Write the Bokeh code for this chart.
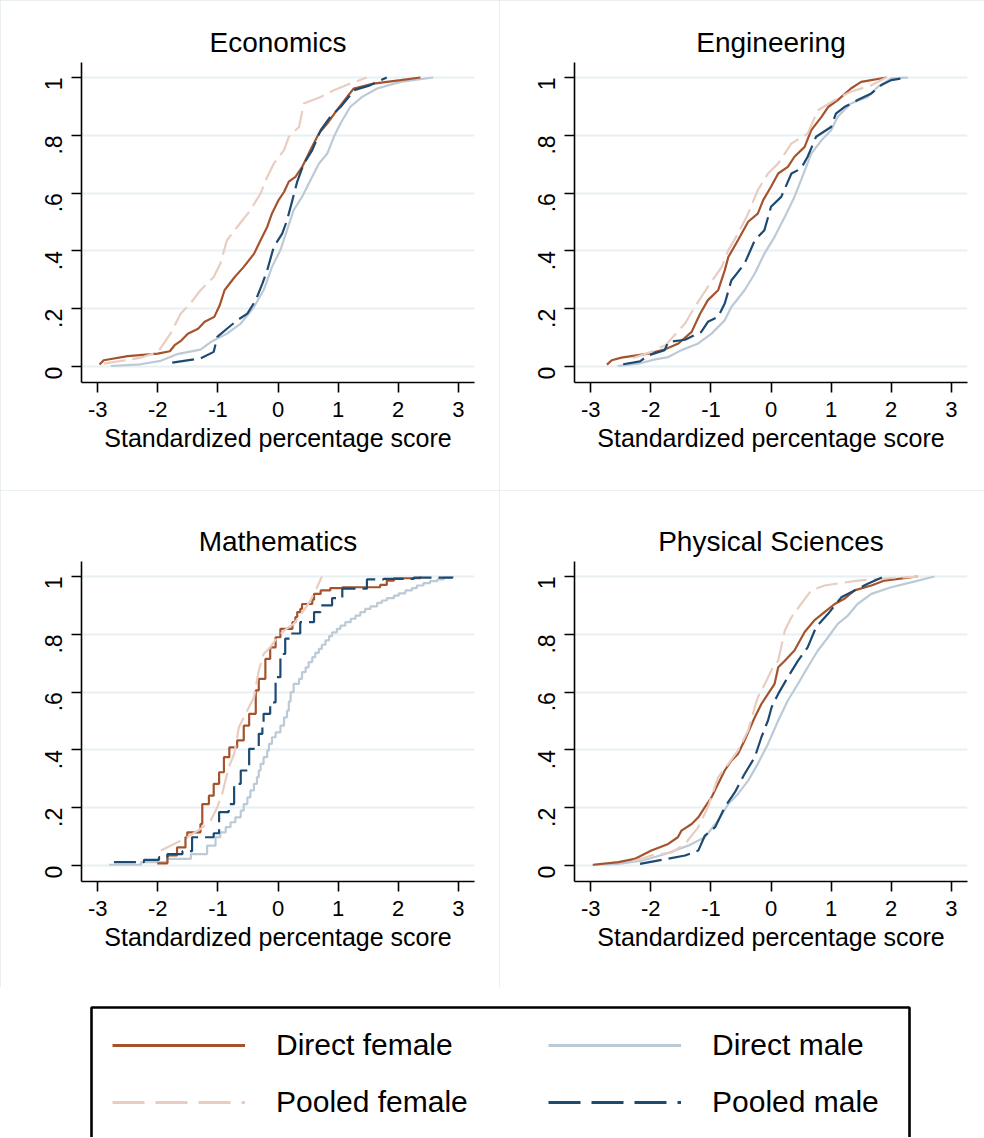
import math

from bokeh.plotting import figure
from bokeh.layouts import column, row
from bokeh.models import Legend, LegendItem, BoxAnnotation, Range1d
from bokeh.embed import file_html
from bokeh.resources import INLINE

# ---- data (standardized score vs cumulative share) ----
econ_df_x = [-2.97, -2.90, -2.50, -2.00, -1.80, -1.72, -1.61, -1.50, -1.33, -1.22, -1.06, -0.97, -0.89, -0.72, -0.57, -0.40, -0.29, -0.18, -0.10, 0.01, 0.10, 0.18, 0.29, 0.40, 0.54, 0.68, 0.82, 0.98, 1.15, 1.26, 1.59, 2.04, 2.37]
econ_df_y = [0.007, 0.022, 0.036, 0.045, 0.053, 0.074, 0.090, 0.114, 0.131, 0.155, 0.172, 0.212, 0.264, 0.310, 0.345, 0.390, 0.437, 0.483, 0.530, 0.576, 0.604, 0.640, 0.656, 0.690, 0.749, 0.806, 0.841, 0.887, 0.933, 0.962, 0.979, 0.991, 1.0]
econ_dm_x = [-2.78, -2.29, -1.95, -1.68, -1.29, -1.12, -0.85, -0.62, -0.40, -0.24, -0.10, 0.04, 0.15, 0.26, 0.40, 0.54, 0.68, 0.82, 0.93, 1.04, 1.20, 1.40, 1.65, 2.04, 2.58]
econ_dm_y = [0.002, 0.008, 0.020, 0.043, 0.059, 0.085, 0.114, 0.149, 0.206, 0.264, 0.345, 0.403, 0.472, 0.541, 0.587, 0.645, 0.702, 0.737, 0.795, 0.841, 0.898, 0.933, 0.962, 0.985, 1.0]
econ_pf_x = [-2.90, -2.30, -2.00, -1.90, -1.79, -1.62, -1.46, -1.29, -1.07, -0.96, -0.85, -0.68, -0.46, -0.29, -0.18, -0.07, 0.10, 0.18, 0.35, 0.43, 0.71, 0.93, 1.20, 1.48]
econ_pf_y = [0.010, 0.030, 0.050, 0.080, 0.114, 0.183, 0.218, 0.264, 0.310, 0.356, 0.437, 0.483, 0.541, 0.599, 0.656, 0.702, 0.749, 0.795, 0.829, 0.910, 0.933, 0.956, 0.979, 1.0]
econ_pm_x = [-1.76, -1.29, -1.07, -1.01, -0.85, -0.68, -0.51, -0.37, -0.26, -0.18, -0.07, 0.07, 0.15, 0.24, 0.32, 0.43, 0.57, 0.71, 0.87, 1.04, 1.18, 1.26, 1.53, 1.81]
econ_pm_y = [0.014, 0.028, 0.051, 0.103, 0.131, 0.160, 0.183, 0.230, 0.287, 0.333, 0.414, 0.460, 0.506, 0.576, 0.640, 0.702, 0.749, 0.818, 0.864, 0.898, 0.933, 0.956, 0.973, 1.0]

eng_df_x = [-2.73, -2.65, -2.49, -2.04, -1.77, -1.54, -1.32, -1.18, -1.05, -0.88, -0.77, -0.71, -0.55, -0.38, -0.22, -0.13, 0.00, 0.12, 0.28, 0.39, 0.56, 0.67, 0.84, 0.95, 1.11, 1.33, 1.50, 1.92]
eng_df_y = [0.007, 0.022, 0.031, 0.045, 0.059, 0.080, 0.120, 0.183, 0.230, 0.264, 0.333, 0.379, 0.437, 0.501, 0.529, 0.576, 0.622, 0.668, 0.691, 0.726, 0.760, 0.818, 0.864, 0.898, 0.922, 0.962, 0.985, 1.0]
eng_dm_x = [-2.55, -2.21, -1.93, -1.71, -1.49, -1.21, -0.99, -0.77, -0.66, -0.44, -0.27, -0.11, 0.06, 0.23, 0.39, 0.50, 0.67, 0.84, 1.00, 1.11, 1.33, 1.61, 1.78, 2.00, 2.27]
eng_dm_y = [0.002, 0.010, 0.025, 0.033, 0.057, 0.080, 0.114, 0.160, 0.206, 0.264, 0.322, 0.391, 0.449, 0.518, 0.587, 0.645, 0.737, 0.783, 0.818, 0.864, 0.910, 0.933, 0.968, 0.997, 1.0]
eng_pf_x = [-2.30, -2.00, -1.75, -1.63, -1.43, -1.27, -1.05, -0.82, -0.71, -0.55, -0.38, -0.22, -0.05, 0.12, 0.34, 0.61, 0.78, 1.06, 1.33, 1.67, 1.92]
eng_pf_y = [0.030, 0.050, 0.075, 0.103, 0.149, 0.206, 0.276, 0.345, 0.403, 0.460, 0.530, 0.610, 0.668, 0.703, 0.772, 0.806, 0.887, 0.922, 0.951, 0.973, 1.0]
eng_pm_x = [-2.46, -2.18, -2.04, -1.77, -1.71, -1.43, -1.16, -1.05, -0.88, -0.77, -0.66, -0.44, -0.27, -0.11, 0.00, 0.17, 0.34, 0.50, 0.61, 0.75, 1.00, 1.08, 1.22, 1.44, 1.67, 1.83, 2.00, 2.27]
eng_pm_y = [0.008, 0.018, 0.039, 0.057, 0.085, 0.093, 0.120, 0.155, 0.172, 0.218, 0.298, 0.356, 0.437, 0.472, 0.553, 0.587, 0.668, 0.685, 0.726, 0.795, 0.829, 0.875, 0.898, 0.922, 0.945, 0.973, 0.991, 1.0]

math_df_x = [-2.01, -1.84, -1.68, -1.54, -1.51, -1.29, -1.26, -1.15, -1.07, -0.98, -0.90, -0.81, -0.68, -0.57, -0.48, -0.37, -0.32, -0.21, -0.13, -0.04, 0.04, 0.24, 0.29, 0.32, 0.37, 0.40, 0.57, 0.60, 0.71, 0.87, 1.07, 1.70, 1.81, 1.93, 2.37]
math_df_y = [0.008, 0.035, 0.063, 0.098, 0.115, 0.144, 0.213, 0.242, 0.283, 0.323, 0.375, 0.409, 0.433, 0.484, 0.525, 0.606, 0.646, 0.715, 0.755, 0.790, 0.819, 0.842, 0.860, 0.877, 0.888, 0.905, 0.920, 0.940, 0.952, 0.960, 0.963, 0.971, 0.986, 0.994, 1.0]
math_dm_x = [-2.81, -2.28, -1.84, -1.45, -1.18, -1.04, -0.96, -0.87, -0.79, -0.71, -0.62, -0.57, -0.51, -0.46, -0.40, -0.35, -0.32, -0.29, -0.24, -0.18, -0.15, -0.10, -0.04, 0.04, 0.10, 0.15, 0.18, 0.21, 0.26, 0.35, 0.40, 0.46, 0.51, 0.57, 0.62, 0.68, 0.73, 0.79, 0.85, 0.90, 0.98, 1.04, 1.12, 1.21, 1.29, 1.37, 1.45, 1.54, 1.65, 1.73, 1.81, 1.93, 2.01, 2.12, 2.23, 2.31, 2.42, 2.53, 2.65, 2.76, 2.90]
math_dm_y = [0.003, 0.012, 0.023, 0.040, 0.069, 0.098, 0.115, 0.133, 0.150, 0.167, 0.190, 0.213, 0.236, 0.260, 0.283, 0.306, 0.329, 0.352, 0.375, 0.398, 0.421, 0.444, 0.461, 0.484, 0.513, 0.536, 0.568, 0.600, 0.629, 0.646, 0.669, 0.686, 0.704, 0.721, 0.736, 0.750, 0.764, 0.779, 0.794, 0.807, 0.819, 0.830, 0.842, 0.854, 0.865, 0.877, 0.888, 0.897, 0.909, 0.917, 0.925, 0.934, 0.942, 0.952, 0.960, 0.969, 0.977, 0.984, 0.990, 0.996, 1.0]
math_pf_x = [-1.95, -1.73, -1.51, -1.29, -1.12, -1.01, -0.93, -0.82, -0.73, -0.65, -0.54, -0.40, -0.32, -0.24, -0.13, -0.01, 0.10, 0.26, 0.37, 0.54, 0.65, 0.73]
math_pf_y = [0.052, 0.075, 0.098, 0.127, 0.156, 0.202, 0.248, 0.340, 0.386, 0.479, 0.525, 0.582, 0.675, 0.732, 0.755, 0.790, 0.813, 0.836, 0.865, 0.917, 0.963, 1.0]
math_pm_x = [-2.73, -2.23, -1.98, -1.84, -1.59, -1.43, -1.07, -0.98, -0.82, -0.73, -0.62, -0.48, -0.32, -0.26, -0.24, -0.13, -0.04, 0.04, 0.12, 0.21, 0.37, 0.60, 0.71, 0.90, 1.07, 1.48, 1.76, 2.26, 2.90]
math_pm_y = [0.012, 0.020, 0.029, 0.040, 0.050, 0.098, 0.112, 0.185, 0.213, 0.283, 0.329, 0.404, 0.456, 0.490, 0.525, 0.565, 0.652, 0.732, 0.785, 0.803, 0.842, 0.877, 0.900, 0.925, 0.958, 0.990, 0.992, 0.996, 1.0]

phys_df_x = [-2.96, -2.54, -2.27, -1.99, -1.71, -1.55, -1.49, -1.32, -1.21, -1.10, -0.99, -0.88, -0.77, -0.66, -0.55, -0.44, -0.27, -0.16, -0.05, 0.06, 0.12, 0.23, 0.39, 0.56, 0.72, 0.89, 1.06, 1.22, 1.39, 1.67, 1.89, 2.44]
phys_df_y = [0.003, 0.012, 0.023, 0.052, 0.075, 0.098, 0.121, 0.144, 0.167, 0.202, 0.236, 0.283, 0.329, 0.363, 0.386, 0.433, 0.513, 0.559, 0.594, 0.629, 0.686, 0.709, 0.744, 0.808, 0.848, 0.877, 0.905, 0.923, 0.952, 0.969, 0.986, 1.0]
phys_dm_x = [-2.98, -2.54, -2.15, -1.76, -1.38, -1.10, -0.88, -0.71, -0.55, -0.38, -0.22, -0.05, 0.12, 0.28, 0.45, 0.61, 0.78, 0.95, 1.11, 1.28, 1.44, 1.67, 2.00, 2.33, 2.72]
phys_dm_y = [0.002, 0.006, 0.017, 0.040, 0.069, 0.098, 0.156, 0.213, 0.248, 0.294, 0.352, 0.421, 0.502, 0.571, 0.629, 0.686, 0.744, 0.790, 0.836, 0.865, 0.905, 0.940, 0.963, 0.980, 1.0]
phys_pf_x = [-2.30, -1.99, -1.65, -1.43, -1.21, -1.05, -0.88, -0.71, -0.55, -0.38, -0.27, -0.22, -0.10, 0.03, 0.12, 0.23, 0.34, 0.50, 0.67, 0.89, 1.44, 2.00, 2.44]
phys_pf_y = [0.015, 0.035, 0.046, 0.075, 0.133, 0.202, 0.306, 0.352, 0.398, 0.467, 0.548, 0.582, 0.629, 0.686, 0.709, 0.813, 0.859, 0.905, 0.952, 0.969, 0.986, 0.995, 1.0]
phys_pm_x = [-2.18, -1.82, -1.43, -1.21, -1.10, -0.93, -0.77, -0.60, -0.44, -0.27, -0.16, -0.05, 0.01, 0.12, 0.28, 0.45, 0.61, 0.75, 0.95, 1.17, 1.39, 1.61, 1.86]
phys_pm_y = [0.006, 0.020, 0.035, 0.052, 0.104, 0.133, 0.202, 0.254, 0.317, 0.375, 0.444, 0.502, 0.548, 0.594, 0.652, 0.709, 0.755, 0.825, 0.871, 0.928, 0.952, 0.975, 0.998]

y_ticks = [0, 0.2, 0.4, 0.6, 0.8, 1]
y_tick_labels = ["0", ".2", ".4", ".6", ".8", "1"]
x_ticks = [-3, -2, -1, 0, 1, 2, 3]
x_tick_labels = ["-3", "-2", "-1", "0", "1", "2", "3"]

FONT = "Liberation Sans"
C_DF = "#a5532d"   # direct female
C_DM = "#bccad6"   # direct male
C_PF = "#e8cdc0"   # pooled female
C_PM = "#1c4a72"   # pooled male
GRID = "#e8f0f2"
CELL = "#e3ebee"


def make_panel(title, df, dm, pf, pm, left_col, top_row, steps=False):
    if left_col:
        w, bl, br = 499, 81, 25
    else:
        w, bl, br = 485, 75, 17
    if top_row:
        h, bt, bb = 490, 62, 108
    else:
        h, bt, bb = 497, 71, 106

    p = figure(width=w, height=h, x_range=(-3.27, 3.27), y_range=(-0.055, 1.052),
               min_border_left=bl, min_border_right=br, min_border_top=bt, min_border_bottom=bb,
               output_backend="svg", toolbar_location=None, title=title)
    p.styles = {"outline": "1px solid " + CELL, "outline-offset": "-1px"}
    p.outline_line_color = None
    p.background_fill_color = "white"
    p.border_fill_color = "white"

    p.title.text_font = FONT
    p.title.text_font_size = "28px"
    p.title.text_font_style = "normal"
    p.title.text_color = "black"
    p.title.align = "center"
    p.title.standoff = 9

    p.xgrid.visible = False
    p.ygrid.ticker = y_ticks
    p.ygrid.grid_line_color = GRID
    p.ygrid.grid_line_width = 2

    for ax in (p.xaxis[0], p.yaxis[0]):
        ax.axis_line_width = 1.6
        ax.axis_line_color = "black"
        ax.major_tick_line_width = 1.6
        ax.major_tick_line_color = "black"
        ax.major_tick_in = 0
        ax.major_tick_out = 10
        ax.minor_tick_line_color = None
        ax.major_label_text_font = FONT
        ax.major_label_text_font_size = "22px"
        ax.major_label_text_color = "black"
        ax.major_label_standoff = 9

    p.xaxis.ticker = x_ticks
    p.xaxis.major_label_overrides = dict(zip(x_ticks, x_tick_labels))
    p.xaxis.axis_label = "Standardized percentage score"
    p.xaxis.axis_label_text_font = FONT
    p.xaxis.axis_label_text_font_size = "25px"
    p.xaxis.axis_label_text_font_style = "normal"
    p.xaxis.axis_label_text_color = "black"
    p.xaxis.axis_label_standoff = 4

    p.yaxis.ticker = y_ticks
    p.yaxis.major_label_overrides = dict(zip(y_ticks, y_tick_labels))
    p.yaxis.major_label_orientation = math.pi / 2
    p.yaxis.major_label_text_font_size = "23px"
    p.yaxis.major_label_standoff = 18

    if steps:
        p.step(dm[0], dm[1], mode="after", color=C_DM, line_width=2.2)
        p.step(df[0], df[1], mode="after", color=C_DF, line_width=2.2)
    else:
        p.line(dm[0], dm[1], color=C_DM, line_width=2.2)
        p.line(df[0], df[1], color=C_DF, line_width=2.2)
    p.line(pf[0], pf[1], color=C_PF, line_width=2.2, line_dash="22 7")
    if steps:
        p.step(pm[0], pm[1], mode="after", color=C_PM, line_width=2.2, line_dash="22 7")
    else:
        p.line(pm[0], pm[1], color=C_PM, line_width=2.2, line_dash="22 7")
    return p


p1 = make_panel("Economics", (econ_df_x, econ_df_y), (econ_dm_x, econ_dm_y),
                (econ_pf_x, econ_pf_y), (econ_pm_x, econ_pm_y), True, True)
p2 = make_panel("Engineering", (eng_df_x, eng_df_y), (eng_dm_x, eng_dm_y),
                (eng_pf_x, eng_pf_y), (eng_pm_x, eng_pm_y), False, True)
p3 = make_panel("Mathematics", (math_df_x, math_df_y), (math_dm_x, math_dm_y),
                (math_pf_x, math_pf_y), (math_pm_x, math_pm_y), True, False, steps=True)
p4 = make_panel("Physical Sciences", (phys_df_x, phys_df_y), (phys_dm_x, phys_dm_y),
                (phys_pf_x, phys_pf_y), (phys_pm_x, phys_pm_y), False, False)

# legend strip below the panels
lf = figure(width=984, height=150, x_range=Range1d(0, 984), y_range=Range1d(0, 150),
            min_border=0, x_axis_type=None, y_axis_type=None,
            output_backend="svg", toolbar_location=None)
lf.grid.visible = False
lf.outline_line_color = None
lf.border_fill_color = "white"
lf.add_layout(BoxAnnotation(left=91, right=909, top=130, bottom=-60, fill_alpha=0,
                            line_color="black", line_alpha=1, line_width=2.6))

# off-canvas dummies, only used to draw the legend samples
off_x = [-50, -40]
off_y = [-50, -50]
r_df = lf.line(off_x, off_y, color=C_DF, line_width=3)
r_pf = lf.line(off_x, off_y, color=C_PF, line_width=3, line_dash="32 11")
r_dm = lf.line(off_x, off_y, color=C_DM, line_width=3)
r_pm = lf.line(off_x, off_y, color=C_PM, line_width=3, line_dash="32 11")

legend = Legend(items=[LegendItem(label="Direct female", renderers=[r_df]),
                       LegendItem(label="Pooled female", renderers=[r_pf]),
                       LegendItem(label="Direct male", renderers=[r_dm]),
                       LegendItem(label="Pooled male", renderers=[r_pm])],
                ncols=2, location=(112, 18), border_line_color=None,
                background_fill_alpha=0, glyph_width=133, glyph_height=30,
                label_height=30, label_standoff=31, label_width=249, spacing=23,
                padding=0, margin=0, label_text_font=FONT, label_text_font_size="30px",
                label_text_color="black")
lf.add_layout(legend)

layout = column(row(p1, p2), row(p3, p4), lf)

open("out.html", "w").write(file_html(layout, INLINE))
